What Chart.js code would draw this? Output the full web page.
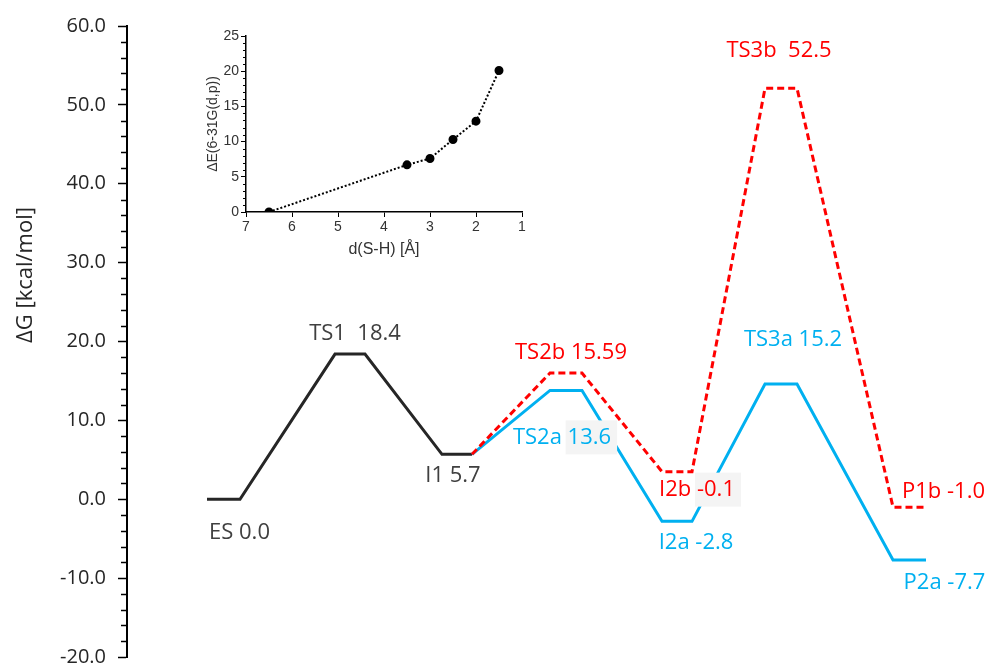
<!DOCTYPE html>
<html>
<head>
<meta charset="utf-8">
<script src="https://cdn.jsdelivr.net/npm/chart.js@4/dist/chart.umd.min.js"></script>
<style>
  html, body { margin: 0; padding: 0; background: #ffffff; }
  #wrap { position: relative; width: 990px; height: 664px; }
  #main { position: absolute; left: 0; top: 0; }
  #inset { position: absolute; left: 185px; top: 25px; }
</style>
</head>
<body>
<div id="wrap">
  <canvas id="main" width="990" height="664"></canvas>
  <canvas id="inset" width="345" height="240"></canvas>
</div>
<script>
// ---------- data (main energy profile) ----------
const stages      = ['ES', 'TS1', 'I1', 'TS2', 'I2', 'TS3', 'P'];
const stageStart  = [8.0, 20.8, 31.5, 42.3, 53.5, 63.8, 76.6];
const stageEnd    = [11.3, 23.8, 34.5, 45.5, 56.5, 67.0, 79.9];
const commonG     = [0.0, 18.4, 5.7];               // ES, TS1, I1
const pathAG      = [5.7, 13.8, -2.8, 14.6, -7.7];  // I1, TS2a, I2a, TS3a, P2a
const pathBG      = [5.7, 16.0, 3.5, 52.1, -1.0];   // I1, TS2b, I2b, TS3b, P1b
const commonLabels = ['ES 0.0', 'TS1  18.4', 'I1 5.7'];
const pathALabels  = ['', 'TS2a 13.6', 'I2a -2.8', 'TS3a 15.2', 'P2a -7.7'];
const pathBLabels  = ['', 'TS2b 15.59', 'I2b -0.1', 'TS3b  52.5', 'P1b -1.0'];
const yTickValues  = [-20, -10, 0, 10, 20, 30, 40, 50, 60];
const yTitle = 'ΔG [kcal/mol]';

// ---------- data (inset) ----------
const insetD = [6.5, 3.5, 3.0, 2.5, 2.0, 1.5];
const insetE = [0.0, 6.7, 7.6, 10.3, 12.9, 20.1];
const insetXTitle = 'd(S-H) [Å]';
const insetYTitle = 'ΔE(6-31G(d,p))';

// ---------- build point lists ----------
function plateauPoints(stageIdx, values, skipFirstStart) {
  const pts = [];
  stageIdx.forEach((s, i) => {
    if (!(skipFirstStart && i === 0)) pts.push({x: stageStart[s], y: values[i]});
    pts.push({x: stageEnd[s], y: values[i]});
  });
  return pts;
}
const blackPts = plateauPoints([0, 1, 2], commonG, false);
const bluePts  = plateauPoints([2, 3, 4, 5, 6], pathAG, true);
const redPts   = plateauPoints([2, 3, 4, 5, 6], pathBG, true);

const BLACK = '#262626', BLUE = '#00B0F0', RED = '#FF0000', TXT = '#404040';
const LABEL_FONT = '22px "Open Sans"';

// label placement (pixel offsets from the plateau centre) and styling
const labelPlacement = [
  {src: 'c', i: 0, dx: 16,  dy: 33,  color: TXT},
  {src: 'c', i: 1, dx: 5,   dy: -20, color: TXT},
  {src: 'c', i: 2, dx: -4,  dy: 21,  color: TXT},
  {src: 'a', i: 1, dx: -4,  dy: 47,  color: BLUE, box: true},
  {src: 'a', i: 2, dx: 19,  dy: 21,  color: BLUE},
  {src: 'a', i: 3, dx: 12,  dy: -44, color: BLUE},
  {src: 'a', i: 4, dx: 35,  dy: 23,  color: BLUE},
  {src: 'b', i: 1, dx: 5,   dy: -20, color: RED},
  {src: 'b', i: 2, dx: 20,  dy: 18,  color: RED, box: true},
  {src: 'b', i: 3, dx: -2,  dy: -38, color: RED},
  {src: 'b', i: 4, dx: 34,  dy: -15, color: RED}
];
const srcMap = {
  c: {stages: [0, 1, 2], vals: commonG, labels: commonLabels},
  a: {stages: [2, 3, 4, 5, 6], vals: pathAG, labels: pathALabels},
  b: {stages: [2, 3, 4, 5, 6], vals: pathBG, labels: pathBLabels}
};

const annotatePlugin = {
  id: 'annotate',
  afterDatasetsDraw(chart) {
    const ctx = chart.ctx;
    const xs = chart.scales.x, ys = chart.scales.y;
    ctx.save();
    ctx.font = LABEL_FONT;
    ctx.textAlign = 'center';
    ctx.textBaseline = 'middle';
    labelPlacement.forEach(p => {
      const src = srcMap[p.src];
      const s = src.stages[p.i];
      const cx = xs.getPixelForValue((stageStart[s] + stageEnd[s]) / 2) + p.dx;
      const cy = ys.getPixelForValue(src.vals[p.i]) + p.dy;
      const text = src.labels[p.i];
      if (p.box) {
        const full = ctx.measureText(text).width;
        const parts = text.split(' ');
        const valPart = parts[parts.length - 1];
        const vw = ctx.measureText(valPart).width;
        const x1 = cx + full / 2 - vw - 2;
        ctx.fillStyle = '#f4f4f4';
        ctx.fillRect(x1, cy - 17, vw + 8, 34);
      }
      ctx.fillStyle = p.color;
      ctx.fillText(text, cx, cy);
    });
    ctx.restore();
  }
};

const axisExtrasPlugin = {
  id: 'axisExtras',
  afterDraw(chart) {
    const ctx = chart.ctx;
    const ys = chart.scales.y;
    const x0 = chart.chartArea.left;
    ctx.save();
    ctx.strokeStyle = '#000';
    ctx.lineWidth = 1.5;
    for (let v = -20; v <= 60; v += 2) {
      if (v % 10 === 0) continue;
      const py = Math.round(ys.getPixelForValue(v)) + 0.5;
      ctx.beginPath();
      ctx.moveTo(x0 - 6, py);
      ctx.lineTo(x0, py);
      ctx.stroke();
    }
    // y-axis title
    ctx.translate(26, 275);
    ctx.rotate(-Math.PI / 2);
    ctx.font = '22px "Open Sans"';
    ctx.fillStyle = '#262626';
    ctx.textAlign = 'center';
    ctx.textBaseline = 'middle';
    ctx.fillText(yTitle, 0, 0);
    ctx.restore();
  }
};

new Chart(document.getElementById('main'), {
  type: 'line',
  data: {
    datasets: [
      {data: redPts, borderColor: RED, borderWidth: 3, borderDash: [7, 4], pointRadius: 0, tension: 0, fill: false},
      {data: bluePts, borderColor: BLUE, borderWidth: 3, pointRadius: 0, tension: 0, fill: false},
      {data: blackPts, borderColor: BLACK, borderWidth: 3, pointRadius: 0, tension: 0, fill: false}
    ]
  },
  options: {
    responsive: false,
    animation: false,
    devicePixelRatio: 1,
    layout: {padding: {top: 26, bottom: 7, left: 0, right: 3}},
    plugins: {legend: {display: false}, tooltip: {enabled: false}},
    scales: {
      x: {type: 'linear', min: 0, max: 86, display: false},
      y: {
        type: 'linear', min: -20, max: 60,
        afterBuildTicks(scale) { scale.ticks = yTickValues.map(v => ({value: v})); },
        afterFit(scale) { scale.width = 127; scale.paddingTop = 0; scale.paddingBottom = 0; },
        ticks: {
          callback: v => Number(v).toFixed(1),
          font: {family: 'Open Sans', size: 20},
          color: '#262626',
          padding: 12
        },
        grid: {drawOnChartArea: false, tickLength: 9, tickColor: '#000', tickWidth: 1.5},
        border: {color: '#000', width: 2}
      }
    }
  },
  plugins: [annotatePlugin, axisExtrasPlugin]
});

// ---------- inset ----------
const insetMinorPlugin = {
  id: 'insetMinor',
  afterDraw(chart) {
    const ctx = chart.ctx;
    const ys = chart.scales.y;
    const x0 = chart.chartArea.left;
    ctx.save();
    ctx.strokeStyle = '#000';
    ctx.lineWidth = 1;
    for (let v = 0; v <= 25; v += 1) {
      if (v % 5 === 0) continue;
      const py = Math.round(ys.getPixelForValue(v)) + 0.5;
      ctx.beginPath();
      ctx.moveTo(x0 - 3, py);
      ctx.lineTo(x0, py);
      ctx.stroke();
    }
    ctx.restore();
  }
};

new Chart(document.getElementById('inset'), {
  type: 'line',
  data: {
    datasets: [{
      data: insetD.map((d, i) => ({x: d, y: insetE[i]})),
      borderColor: '#000', borderWidth: 2, borderDash: [2, 2],
      pointRadius: 3.5, pointBackgroundColor: '#000', pointBorderColor: '#000',
      tension: 0, fill: false
    }]
  },
  options: {
    responsive: false,
    animation: false,
    devicePixelRatio: 1,
    layout: {padding: {top: 11, right: 8, left: 0, bottom: 0}},
    plugins: {legend: {display: false}, tooltip: {enabled: false}},
    scales: {
      x: {
        type: 'linear', min: 1, max: 7, reverse: true,
        afterFit(scale) { scale.height = 53; scale.paddingLeft = 0; scale.paddingRight = 0; },
        ticks: {stepSize: 1, font: {family: 'Liberation Sans', size: 14}, color: '#333', padding: 2},
        grid: {drawOnChartArea: false, tickLength: 5, tickColor: '#000'},
        border: {color: '#000', width: 1.5},
        title: {display: true, text: insetXTitle, font: {family: 'Liberation Sans', size: 16}, color: '#333', padding: {top: 0, bottom: 6}}
      },
      y: {
        type: 'linear', min: 0, max: 25,
        afterFit(scale) { scale.width = 61; scale.paddingTop = 0; scale.paddingBottom = 0; },
        ticks: {stepSize: 5, font: {family: 'Liberation Sans', size: 14}, color: '#333', padding: 2},
        grid: {drawOnChartArea: false, tickLength: 5, tickColor: '#000'},
        border: {color: '#000', width: 1.5},
        title: {display: true, text: insetYTitle, font: {family: 'Liberation Sans', size: 14}, color: '#333', padding: {top: 20, bottom: 0}}
      }
    }
  },
  plugins: [insetMinorPlugin]
});
</script>
</body>
</html>
